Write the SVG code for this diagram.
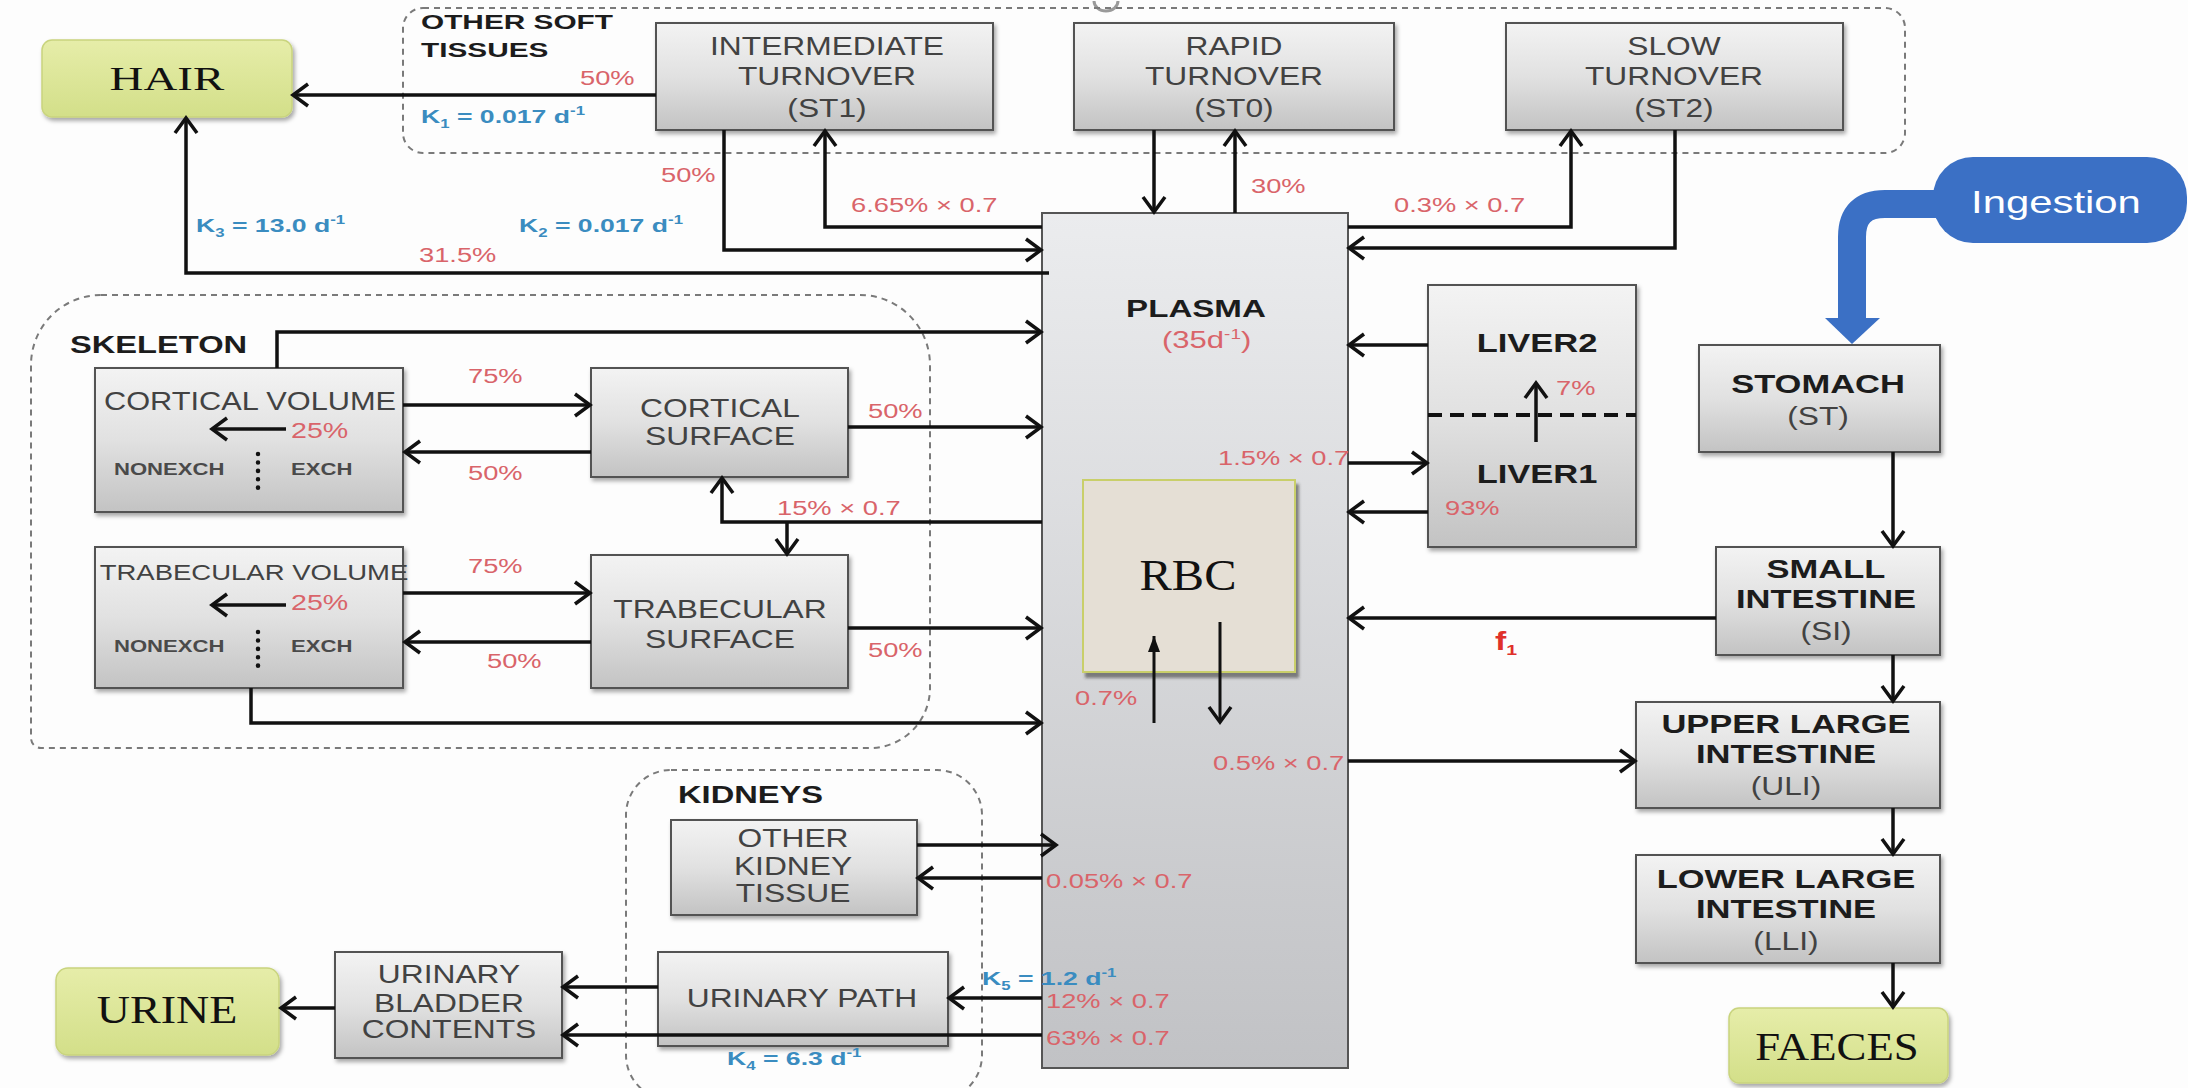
<svg xmlns="http://www.w3.org/2000/svg" width="2188" height="1088" viewBox="0 0 2188 1088">
<defs>
<linearGradient id="gBox" x1="0" y1="0" x2="0" y2="1"><stop offset="0" stop-color="#f3f3f3"/><stop offset="0.5" stop-color="#e1e1e1"/><stop offset="1" stop-color="#c3c3c3"/></linearGradient>
<linearGradient id="gPl" x1="0" y1="0" x2="0" y2="1"><stop offset="0" stop-color="#ebecee"/><stop offset="1" stop-color="#c1c2c5"/></linearGradient>
<linearGradient id="gGr" x1="0" y1="0" x2="0" y2="1"><stop offset="0" stop-color="#e6eda9"/><stop offset="1" stop-color="#d3df89"/></linearGradient>
<filter id="sh" x="-10%" y="-10%" width="130%" height="130%"><feDropShadow dx="2" dy="3" stdDeviation="2" flood-color="#000" flood-opacity="0.35"/></filter>
<filter id="sh2" x="-10%" y="-10%" width="130%" height="130%"><feDropShadow dx="3" dy="5" stdDeviation="1.5" flood-color="#333" flood-opacity="0.55"/></filter>
<marker id="ah" markerUnits="userSpaceOnUse" markerWidth="24" markerHeight="28" refX="18" refY="13" orient="auto" overflow="visible"><path d="M3,2 L18,13 L3,24" fill="none" stroke="#111" stroke-width="3.5"/></marker>
<marker id="at" markerUnits="userSpaceOnUse" markerWidth="20" markerHeight="20" refX="16" refY="8" orient="auto" overflow="visible"><path d="M0,2 L16,8 L0,14 Z" fill="#111"/></marker>
</defs>
<style>
.box{fill:url(#gBox);stroke:#525252;stroke-width:2;filter:url(#sh)}
.pl{fill:url(#gPl);stroke:#555;stroke-width:2}
.gr{fill:url(#gGr);stroke:#c9d47e;stroke-width:1.5;filter:url(#sh)}
.grp{fill:none;stroke:#7a7a7a;stroke-width:2;stroke-dasharray:6 5}
.c path,path.c{fill:none;stroke:#111;stroke-width:3.5;marker-end:url(#ah)}
text{font-family:"Liberation Sans",Arial,sans-serif}
.l{font-size:25px;fill:#424242;text-anchor:middle;transform-box:fill-box;transform-origin:center;transform:scaleX(1.27)}
.b{font-weight:bold;fill:#1c1c1c;transform:scaleX(1.38)}
.r{font-size:21px;fill:#d9646a;transform-box:fill-box;transform-origin:left center;transform:scaleX(1.3)}
.k{font-size:19px;font-weight:bold;fill:#3a8cc0;transform-box:fill-box;transform-origin:left center;transform:scaleX(1.4)}
.g{font-size:23px;font-weight:bold;fill:#1c1c1c;transform-box:fill-box;transform-origin:left center;transform:scaleX(1.42)}
.n{font-size:17px;font-weight:bold;fill:#4a4a4a;transform-box:fill-box;transform-origin:left center;transform:scaleX(1.3)}
.s{font-family:"Liberation Serif","Times New Roman",serif;font-size:40px;fill:#111;text-anchor:middle;transform-box:fill-box;transform-origin:center;transform:scaleX(1.12)}
</style>
<rect width="2188" height="1088" fill="#fdfdfd"/>
<path d="M1094,1 A12,10 0 0 0 1118,1" fill="none" stroke="#9a9a9a" stroke-width="3"/>

<g id="groups">
<rect id="grp-soft" class="grp" x="403" y="8" width="1502" height="145" rx="20"/>
<text class="g" x="421" y="29" style="font-size:21px">OTHER SOFT</text>
<text class="g" x="421" y="57" style="font-size:21px">TISSUES</text>
<path id="grp-skel" class="grp" d="M101,295 H860 A70,70 0 0 1 930,365 V688 A60,60 0 0 1 870,748 H41 A10,10 0 0 1 31,738 V365 A70,70 0 0 1 101,295 Z"/>
<text class="g" x="70" y="353">SKELETON</text>
<rect id="grp-kid" class="grp" x="626" y="770" width="356" height="330" rx="45"/>
<text class="g" x="678" y="803">KIDNEYS</text>
</g>

<g id="hair"><rect class="gr" x="42" y="40" width="250" height="77" rx="10"/><text class="s" x="167" y="90" style="font-size:34px;transform:scaleX(1.38)">HAIR</text></g>
<g id="st1"><rect class="box" x="656" y="23" width="337" height="107"/><text class="l" x="827" y="55">INTERMEDIATE</text><text class="l" x="827" y="85">TURNOVER</text><text class="l" x="827" y="117">(ST1)</text></g>
<g id="st0"><rect class="box" x="1074" y="23" width="320" height="107"/><text class="l" x="1234" y="55">RAPID</text><text class="l" x="1234" y="85">TURNOVER</text><text class="l" x="1234" y="117">(ST0)</text></g>
<g id="st2"><rect class="box" x="1506" y="23" width="337" height="107"/><text class="l" x="1674" y="55">SLOW</text><text class="l" x="1674" y="85">TURNOVER</text><text class="l" x="1674" y="117">(ST2)</text></g>
<g id="ingestion"><rect x="1933" y="157" width="254" height="86" rx="40" fill="#3b70c5"/><path d="M1945,204 H1885 Q1852,204 1852,237 V320" fill="none" stroke="#3b70c5" stroke-width="28"/><polygon points="1825,318 1880,318 1852,344" fill="#3b70c5"/><text x="2056" y="213" style="font-size:31px;fill:#fff;text-anchor:middle;transform-box:fill-box;transform-origin:center;transform:scaleX(1.35)">Ingestion</text></g>

<g id="plasma"><rect class="pl" x="1042" y="213" width="306" height="855"/><text class="l b" x="1196" y="317" style="font-size:24px">PLASMA</text><text class="r" x="1162" y="348" style="font-size:23px;transform:scaleX(1.35)">(35d<tspan dy="-9" font-size="14">-1</tspan><tspan dy="9">)</tspan></text></g>
<g id="rbc"><rect x="1083" y="480" width="212" height="192" fill="#e5dfd5" stroke="#c9cf6a" stroke-width="2" filter="url(#sh2)"/><text class="s" x="1188" y="590" style="font-size:44px;transform:scaleX(1.1)">RBC</text></g>
<g id="liver"><rect class="box" x="1428" y="285" width="208" height="262"/><path d="M1428,415 H1636" stroke="#111" stroke-width="4" stroke-dasharray="14 8"/><text class="l b" x="1537" y="352">LIVER2</text><text class="l b" x="1537" y="483">LIVER1</text><text class="r" x="1556" y="395">7%</text><text class="r" x="1445" y="515">93%</text></g>

<g id="stomach"><rect class="box" x="1699" y="345" width="241" height="107"/><text class="l b" x="1818" y="393">STOMACH</text><text class="l" x="1818" y="425">(ST)</text></g>
<g id="si"><rect class="box" x="1716" y="547" width="224" height="108"/><text class="l b" x="1826" y="578">SMALL</text><text class="l b" x="1826" y="608">INTESTINE</text><text class="l" x="1826" y="640">(SI)</text></g>
<g id="uli"><rect class="box" x="1636" y="702" width="304" height="106"/><text class="l b" x="1786" y="733">UPPER LARGE</text><text class="l b" x="1786" y="763">INTESTINE</text><text class="l" x="1786" y="795">(ULI)</text></g>
<g id="lli"><rect class="box" x="1636" y="855" width="304" height="108"/><text class="l b" x="1786" y="888">LOWER LARGE</text><text class="l b" x="1786" y="918">INTESTINE</text><text class="l" x="1786" y="950">(LLI)</text></g>
<g id="faeces"><rect class="gr" x="1729" y="1008" width="219" height="75" rx="10"/><text class="s" x="1837" y="1060">FAECES</text></g>

<g id="cortvol"><rect class="box" x="95" y="368" width="308" height="144"/><text class="l" x="250" y="410" style="transform:scaleX(1.23)">CORTICAL VOLUME</text><text class="n" x="114" y="475">NONEXCH</text><text class="n" x="291" y="475">EXCH</text><path d="M258,454 V496" stroke="#111" stroke-width="4.5" stroke-linecap="round" stroke-dasharray="0.1 8.3"/><text class="r" x="291" y="438" style="font-size:22px">25%</text></g>
<g id="cortsurf"><rect class="box" x="591" y="368" width="257" height="109"/><text class="l" x="720" y="417">CORTICAL</text><text class="l" x="720" y="445">SURFACE</text></g>
<g id="trabvol"><rect class="box" x="95" y="547" width="308" height="141"/><text class="l" x="254" y="580" style="font-size:22px;transform:scaleX(1.25)">TRABECULAR VOLUME</text><text class="n" x="114" y="652">NONEXCH</text><text class="n" x="291" y="652">EXCH</text><path d="M258,632 V673" stroke="#111" stroke-width="4.5" stroke-linecap="round" stroke-dasharray="0.1 8.3"/><text class="r" x="291" y="610" style="font-size:22px">25%</text></g>
<g id="trabsurf"><rect class="box" x="591" y="555" width="257" height="133"/><text class="l" x="720" y="618">TRABECULAR</text><text class="l" x="720" y="648">SURFACE</text></g>

<g id="kidtissue"><rect class="box" x="671" y="820" width="246" height="95"/><text class="l" x="793" y="847">OTHER</text><text class="l" x="793" y="875">KIDNEY</text><text class="l" x="793" y="902">TISSUE</text></g>
<g id="urpath"><rect class="box" x="658" y="952" width="290" height="94"/><text class="l" x="802" y="1007">URINARY PATH</text></g>
<g id="bladder"><rect class="box" x="335" y="952" width="227" height="106"/><text class="l" x="449" y="983">URINARY</text><text class="l" x="449" y="1012">BLADDER</text><text class="l" x="449" y="1038">CONTENTS</text></g>
<g id="urine"><rect class="gr" x="56" y="968" width="223" height="87" rx="12"/><text class="s" x="167" y="1023" style="transform:scaleX(1.15)">URINE</text></g>

<g id="connectors" class="c">
<path d="M656,95 H293"/>
<path d="M724,130 V250 H1041"/>
<path d="M1042,227 H825 V131"/>
<path d="M1049,273 H186 V118"/>
<path d="M1154,130 V212"/>
<path d="M1235,213 V131"/>
<path d="M1348,227 H1571 V131"/>
<path d="M1675,130 V248 H1349"/>
<path d="M1428,345 H1349"/>
<path d="M1348,463 H1427"/>
<path d="M1428,512 H1349"/>
<path d="M1716,618 H1349"/>
<path d="M1348,761 H1635"/>
<path d="M1893,452 V546"/>
<path d="M1893,655 V701"/>
<path d="M1893,808 V854"/>
<path d="M1893,963 V1007"/>
<path d="M277,368 V332 H1041"/>
<path d="M403,405 H590"/>
<path d="M591,452 H405"/>
<path d="M848,427 H1041"/>
<path d="M1042,522 H722 V478"/>
<path d="M787,522 V554"/>
<path d="M403,593 H590"/>
<path d="M591,642 H405"/>
<path d="M848,628 H1041"/>
<path d="M251,688 V723 H1041"/>
<path d="M286,429 H212"/>
<path d="M286,605 H212"/>
<path d="M1154,723 V636" style="stroke-width:3;marker-end:url(#at)"/>
<path d="M1220,622 V722" style="stroke-width:3"/>
<path d="M1536,442 V383"/>
<path d="M917,845 H1056"/>
<path d="M1042,878 H918"/>
<path d="M1042,998 H949"/>
<path d="M1042,1035 H563"/>
<path d="M658,987 H563"/>
<path d="M335,1008 H281"/>
</g>

<g id="labels">
<text class="r" x="580" y="85">50%</text>
<text class="k" x="421" y="123">K<tspan dy="5" font-size="12">1</tspan><tspan dy="-5"> = 0.017 d</tspan><tspan dy="-8" font-size="12">-1</tspan></text>
<text class="r" x="661" y="182">50%</text>
<text class="k" x="196" y="232">K<tspan dy="5" font-size="12">3</tspan><tspan dy="-5"> = 13.0 d</tspan><tspan dy="-8" font-size="12">-1</tspan></text>
<text class="k" x="519" y="232">K<tspan dy="5" font-size="12">2</tspan><tspan dy="-5"> = 0.017 d</tspan><tspan dy="-8" font-size="12">-1</tspan></text>
<text class="r" x="419" y="262">31.5%</text>
<text class="r" x="851" y="212">6.65% × 0.7</text>
<text class="r" x="1251" y="193">30%</text>
<text class="r" x="1394" y="212">0.3% × 0.7</text>
<text class="r" x="468" y="383">75%</text>
<text class="r" x="468" y="480">50%</text>
<text class="r" x="868" y="418">50%</text>
<text class="r" x="777" y="515">15% × 0.7</text>
<text class="r" x="468" y="573">75%</text>
<text class="r" x="487" y="668">50%</text>
<text class="r" x="868" y="657">50%</text>
<text class="r" x="1218" y="465">1.5% × 0.7</text>
<text class="r" x="1075" y="705">0.7%</text>
<text class="r" x="1213" y="770">0.5% × 0.7</text>
<text class="r" x="1495" y="650" style="font-size:26px;font-weight:bold;fill:#e0302a">f<tspan dy="5" font-size="15">1</tspan></text>
<text class="r" x="1046" y="888">0.05% × 0.7</text>
<text class="k" x="982" y="985">K<tspan dy="5" font-size="12">5</tspan><tspan dy="-5"> = 1.2 d</tspan><tspan dy="-8" font-size="12">-1</tspan></text>
<text class="r" x="1046" y="1008">12% × 0.7</text>
<text class="r" x="1046" y="1045">63% × 0.7</text>
<text class="k" x="727" y="1065">K<tspan dy="5" font-size="12">4</tspan><tspan dy="-5"> = 6.3 d</tspan><tspan dy="-8" font-size="12">-1</tspan></text>
</g>
</svg>
